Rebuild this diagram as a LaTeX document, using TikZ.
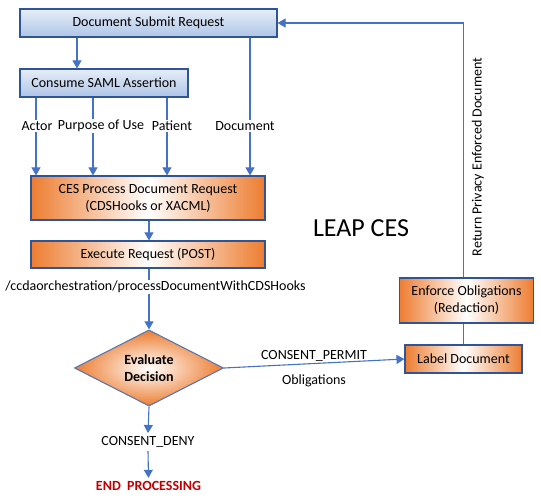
\documentclass[tikz,border=0pt]{standalone}
\usepackage{fontspec}
\setmainfont{Carlito}
\usetikzlibrary{arrows.meta,shapes.geometric}
\definecolor{arr}{HTML}{4472C4}
\definecolor{orng}{HTML}{ED7D31}
\definecolor{bbord}{HTML}{2F5597}
\definecolor{blt}{HTML}{E6EDF8}
\definecolor{bdk}{HTML}{AEC5E7}
\definecolor{dred}{HTML}{C00000}
\tikzset{
 txt/.style={font=\fontsize{14}{17}\selectfont},
 bluebox/.style={txt, draw=bbord, line width=1.1pt, top color=blt, bottom color=bdk, minimum height=28pt, inner sep=0pt},
 orangebox/.style={txt, draw=bbord, line width=1.1pt, left color=orng, right color=orng, middle color=white, inner sep=0pt, align=center},
 conn/.style={draw=arr, line width=1.1pt},
 arrow/.style={conn, -{Triangle[width=9pt,length=8pt]}},
 lbl/.style={txt, fill=white, inner sep=1pt},
}
\begin{document}
\begin{tikzpicture}[x=1pt,y=-1pt]
\useasboundingbox (0,0) rectangle (541,502);
% boxes
\node[bluebox, minimum width=257pt] (dsr) at (148.5,23) {Document Submit Request};
\node[bluebox, minimum width=168pt] (csa) at (104,83) {Consume SAML Assertion};
\node[orangebox, minimum width=234pt, minimum height=44pt] (ces) at (148,198) {CES Process Document Request\\(CDSHooks or XACML)};
\node[orangebox, minimum width=234pt, minimum height=27pt] (exe) at (148,254.5) {Execute Request (POST)};
\node[diamond, draw=bbord!80, line width=1.1pt, inner color=white, outer color=orng, minimum width=149pt, minimum height=58pt, inner sep=0pt, align=center, txt, font=\fontsize{14}{17}\selectfont\bfseries] (dec) at (149,368) {Evaluate\\Decision};
\node[orangebox, minimum width=117pt, minimum height=28pt] (ld) at (463.5,359) {Label Document};
\node[orangebox, minimum width=134pt, minimum height=45pt] (eo) at (466.5,300.5) {Enforce Obligations\\(Redaction)};
% column coordinates
\coordinate (xa) at (36,0);
\coordinate (xp) at (93,0);
\coordinate (xt) at (167,0);
\coordinate (xd) at (250,0);
\coordinate (xs) at (77,0);
% connectors
\draw[arrow] (dsr.south -| xs) -- (csa.north -| xs);
\draw[arrow] (csa.south -| xa) -- (ces.north -| xa);
\draw[arrow] (csa.south -| xp) -- (ces.north -| xp);
\draw[arrow] (csa.south -| xt) -- (ces.north -| xt);
\draw[arrow] (dsr.south -| xd) -- (ces.north -| xd);
\draw[arrow] (ces.south -| dec.north) -- (exe.north -| dec.north);
\draw[arrow] (exe.south -| dec.north) -- (dec.north);
\draw[conn] (ld.north) -- (ld.north |- eo.south);
\draw[arrow] (ld.north |- eo.north) |- (dsr.east);
\draw[arrow] (dec.east) -- (ld.west);
% labels
\node[lbl] (actor) at (37,126) {Actor};
\node[lbl] (pou) at (101,126) {Purpose of Use};
\node[lbl] (pat) at (172,126) {Patient};
\node[lbl] (doc) at (245,126) {Document};
\node[lbl] (path) at (155.5,287) {/ccdaorchestration/processDocumentWithCDSHooks};
\node[txt] (permit) at (314,356) {CONSENT\_PERMIT};
\node[txt] (oblig) at (314,381) {Obligations};
\node[txt] (deny) at (148,442) {CONSENT\_DENY};
\node[txt, font=\fontsize{14}{17}\selectfont\bfseries, text=dred] (endp) at (148.5,486) {END\ \ PROCESSING};
\node[txt, font=\fontsize{26}{30}\selectfont] (leap) at (361,228) {LEAP CES};
\node[txt, rotate=90] (ret) at (478,157) {Return Privacy Enforced Document};
\draw[arrow] (dec.south) -- (deny.north);
\draw[arrow] (deny.south) -- (endp.north);
\end{tikzpicture}
\end{document}
